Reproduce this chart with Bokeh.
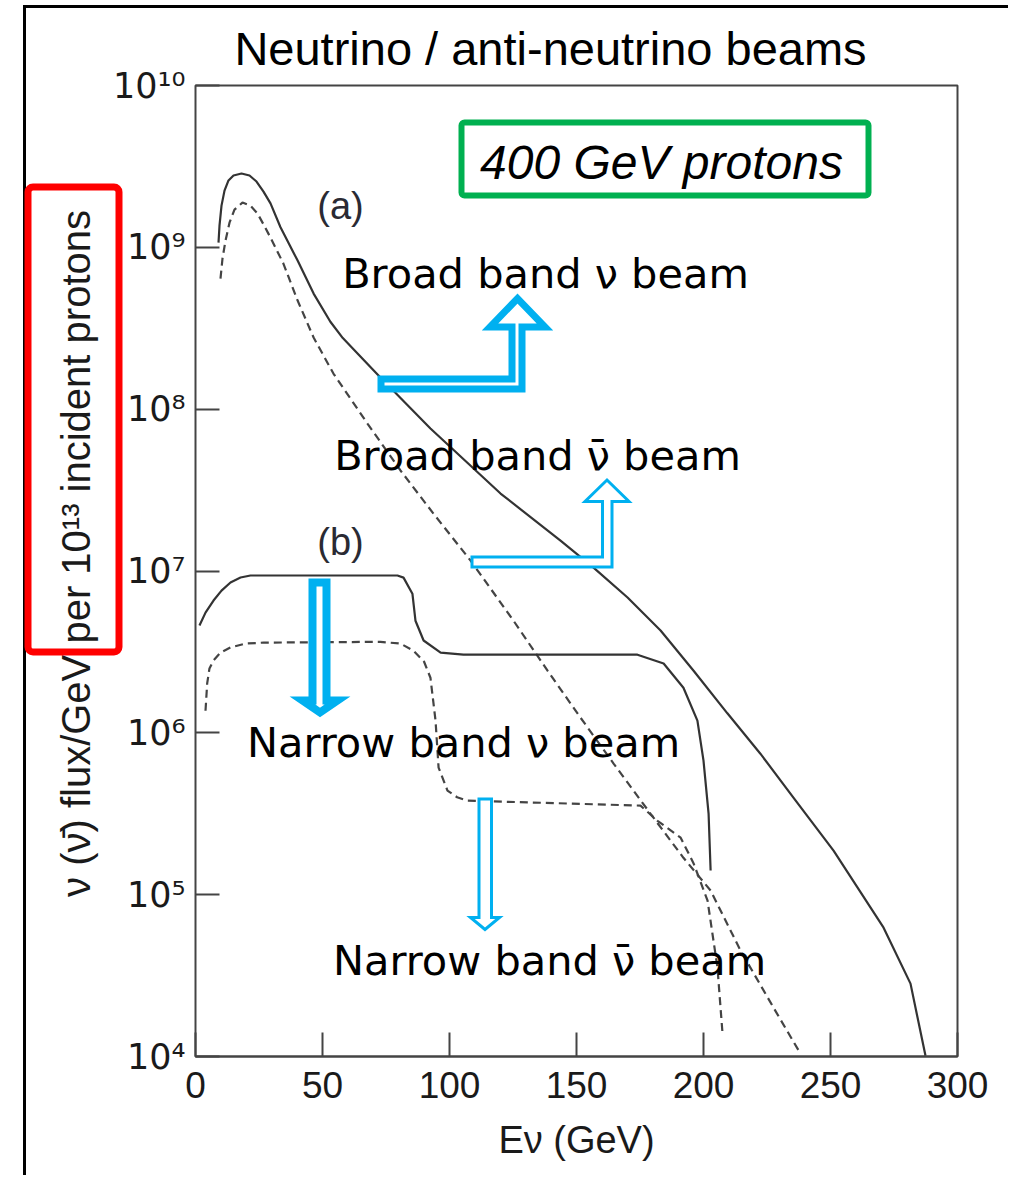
from bokeh.plotting import figure
from bokeh.models import Range1d, FixedTicker, Label, BoxAnnotation, PolyAnnotation
from bokeh.embed import file_html
from bokeh.resources import INLINE

# ---------------- data ----------------
broad_nu_E = [9.06, 9.45, 10.24, 11.42, 12.99, 14.96, 18.11, 21.26, 24.02, 26.77, 29.53, 33.46,
              40.2, 46.5, 53.1, 58.0, 63.8, 72.8, 92.5, 120.1, 143.7, 156.7, 170.1, 183.1,
              196.1, 209.4, 222.4, 235.4, 251.2, 270.9, 281.5, 287.4]
broad_nu_flux = [1.07e9, 1.36e9, 1.81e9, 2.24e9, 2.59e9, 2.78e9, 2.86e9, 2.78e9, 2.55e9, 2.21e9,
                 1.87e9, 1.33e9, 8.28e8, 5.18e8, 3.47e8, 2.75e8, 2.21e8, 1.57e8, 7.59e7, 3.01e7,
                 1.54e7, 1.05e7, 6.86e6, 4.29e6, 2.42e6, 1.32e6, 7.43e5, 3.98e5, 1.87e5, 6.25e4,
                 2.82e4, 1.01e4]

broad_nubar_E = [9.84, 10.63, 11.81, 13.39, 15.35, 18.5, 21.65, 24.4, 27.17, 29.5, 34.6, 40.2,
                 46.5, 54.3, 67.7, 80.7, 93.7, 108.3, 125.2, 138.6, 151.6, 164.6, 179.1, 192.1,
                 202.8, 214.6, 227.6, 238.2]
broad_nubar_flux = [6.41e8, 8.53e8, 1.10e9, 1.42e9, 1.71e9, 1.89e9, 1.81e9, 1.62e9, 1.35e9,
                    1.15e9, 7.94e8, 4.69e8, 2.77e8, 1.66e8, 8.15e7, 4.18e7, 2.26e7, 1.16e7,
                    4.93e6, 2.42e6, 1.24e6, 6.46e5, 3.17e5, 1.69e5, 1.06e5, 4.51e4, 2.0e4, 1.04e4]

narrow_nu_E = [1.57, 3.94, 7.09, 10.24, 13.78, 17.72, 21.65, 79.5, 81.9, 85.4, 86.6, 89.8, 96.5,
               105.5, 174.0, 184.3, 192.1, 197.6, 200.0, 202.0, 202.8]
narrow_nu_flux = [4.6e6, 5.53e6, 6.57e6, 7.57e6, 8.49e6, 9.12e6, 9.38e6, 9.38e6, 9.1e6, 7.24e6,
                  4.93e6, 3.72e6, 3.13e6, 3.04e6, 3.04e6, 2.68e6, 1.90e6, 1.19e6, 6.73e5, 3.17e5,
                  1.41e5]

narrow_nubar_E = [3.94, 4.6, 5.5, 7.09, 9.84, 13.78, 19.7, 26.8, 72.8, 80.7, 85.8, 90.0, 92.5,
                  94.5, 95.7, 99.2, 103.0, 107.1, 175.2, 181.9, 191.0, 196.1, 201.6, 205.5, 207.5]
narrow_nubar_flux = [1.37e6, 2.02e6, 2.5e6, 2.8e6, 3.13e6, 3.37e6, 3.56e6, 3.61e6, 3.65e6, 3.56e6,
                     3.22e6, 2.75e6, 2.19e6, 1.19e6, 6.1e5, 4.4e5, 4.0e5, 3.81e5, 3.55e5, 2.86e5,
                     2.25e5, 1.56e5, 9.18e4, 3.54e4, 1.38e4]

x_ticks = [0, 50, 100, 150, 200, 250, 300]
y_ticks = [10**4, 10**5, 10**6, 10**7, 10**8, 10**9, 10**10]
y_tick_labels = ["10\u2074", "10\u2075", "10\u2076", "10\u2077", "10\u2078", "10\u2079", "10\u00b9\u2070"]

title_text = "Neutrino / anti-neutrino beams"
x_label = "E\u03bd (GeV)"
y_label = "\u03bd (\u03bd\u0304) flux/GeV per 10\u00b9\u00b3 incident protons"
curve_tags = ["(a)", "(b)"]
beam_labels = ["Broad band \u03bd beam", "Broad band \u03bd\u0304 beam",
               "Narrow band \u03bd beam", "Narrow band \u03bd\u0304 beam"]
proton_label = "400 GeV protons"

# ---------------- layout (page pixels) ----------------
W, H = 1008, 1175
FL, FR, FT, FB = 195, 957, 85, 1056   # plot box edges
FONT = "Liberation Sans"
FONT2 = "DejaVu Sans"
BLUE = "#00B0F0"

# the frame covers the whole canvas; axes are pinned at the plot box
xs_per_px = 300.0 / (FR - FL)
x0 = 0 - FL * xs_per_px
x1 = 300 + (W - FR) * xs_per_px
dec_px = (FB - FT) / 6.0
y0 = 10 ** (4 - (H - FB) / dec_px)
y1 = 10 ** (10 + FT / dec_px)
ylabel_top_px = 50   # upper end of the (invisible) y-axis rule, centres the y label
y_bound_top = 10 ** (10 + (FT - ylabel_top_px) / dec_px)

p = figure(width=W, height=H, x_range=Range1d(x0, x1), y_range=Range1d(y0, y1),
           y_axis_type="log", output_backend="svg", toolbar_location=None, title=None,
           min_border_left=0, min_border_right=0, min_border_top=0, min_border_bottom=0)

p.xgrid.visible = False
p.ygrid.visible = False
p.outline_line_color = None
p.background_fill_color = "white"

p.xaxis.ticker = FixedTicker(ticks=x_ticks)
p.yaxis.ticker = FixedTicker(ticks=y_ticks)
p.yaxis.major_label_overrides = {v: s for v, s in zip(y_ticks, y_tick_labels)}
p.xaxis.fixed_location = 1e4
p.yaxis.fixed_location = 0
p.xaxis.bounds = (0, 300)
p.yaxis.bounds = (1e4, y_bound_top)
for ax in (p.xaxis, p.yaxis):
    ax.major_tick_in = 24
    ax.major_tick_out = 0
    ax.minor_tick_line_color = None
    ax.axis_line_color = "#444444"
    ax.axis_line_width = 2
    ax.major_tick_line_color = "#444444"
    ax.major_tick_line_width = 2
    ax.major_label_text_color = "#1a1a1a"
    ax.axis_label_text_font = FONT
    ax.axis_label_text_font_style = "normal"
    ax.axis_label_text_color = "#1a1a1a"
p.yaxis.axis_line_color = None
p.xaxis.major_label_text_font = FONT
p.xaxis.major_label_text_font_size = "37px"
p.yaxis.major_label_text_font = FONT2
p.yaxis.major_label_text_font_size = "35px"
p.xaxis.major_label_standoff = 15
p.yaxis.major_label_standoff = 10
p.xaxis.axis_label = x_label
p.xaxis.axis_label_text_font_size = "38px"
p.xaxis.axis_label_standoff = 18
p.yaxis.axis_label = y_label
p.yaxis.axis_label_text_font_size = "40px"
p.yaxis.axis_label_standoff = 12

# plot box
p.add_layout(BoxAnnotation(left=0, right=300, bottom=1e4, top=1e10, fill_color=None,
                           fill_alpha=0, line_color="#444444", line_alpha=1, line_width=2,
                           level="underlay"))

# ---------------- curves ----------------
p.line(broad_nu_E, broad_nu_flux, line_color="#333333", line_width=2.2)
p.line(broad_nubar_E, broad_nubar_flux, line_color="#444444", line_width=2.2, line_dash="8 5")
p.line(narrow_nu_E, narrow_nu_flux, line_color="#333333", line_width=2.2)
p.line(narrow_nubar_E, narrow_nubar_flux, line_color="#444444", line_width=2.2, line_dash="8 5")


# ---------------- annotations (page-pixel helpers) ----------------
def sx(px):
    return px


def sy(py):
    return H - py


def box(l, t, r, b, **kw):
    return BoxAnnotation(left=sx(l), right=sx(r), top=sy(t), bottom=sy(b),
                         left_units="screen", right_units="screen",
                         top_units="screen", bottom_units="screen", **kw)


def poly(pts, **kw):
    return PolyAnnotation(xs=[sx(a) for a, _ in pts], ys=[sy(b) for _, b in pts],
                          xs_units="screen", ys_units="screen", **kw)


def label(text, px, py, size, style="normal", color="black", font=FONT):
    return Label(x=sx(px), y=sy(py), x_units="screen", y_units="screen", text=text,
                 text_align="center", text_baseline="middle", text_font=font,
                 text_font_size=size, text_font_style=style, text_color=color)


# outer slide frame (left and top black lines)
p.add_layout(box(22.5, 4.5, 25.5, H, fill_color="black", fill_alpha=1, line_color=None))
p.add_layout(box(22.5, 4.5, W, 7.5, fill_color="black", fill_alpha=1, line_color=None))

# red box around part of the y label
p.add_layout(box(27.5, 186.5, 118.5, 651.5, fill_color=None, fill_alpha=0,
                 line_color="#FF0000", line_alpha=1, line_width=7, border_radius=5))
# green box
p.add_layout(box(461, 122, 868, 195, fill_color=None, fill_alpha=0,
                 line_color="#00B050", line_alpha=1, line_width=6, border_radius=3))

# arrows
arrow_style = dict(fill_color="white", fill_alpha=1, line_color=BLUE, line_alpha=1,
                   line_join="miter")
p.add_layout(poly([(380.5, 378.5), (511.5, 378.5), (511.5, 326.5), (489.5, 326.5), (517, 298),
                   (544.5, 326.5), (521.5, 326.5), (521.5, 388.5), (380.5, 388.5)],
                  line_width=7, **arrow_style))
p.add_layout(poly([(471.5, 556.5), (602, 556.5), (602, 501), (584.5, 501), (606.5, 479.5),
                   (628.5, 501), (611.5, 501), (611.5, 566.5), (471.5, 566.5)],
                  line_width=3, **arrow_style))
p.add_layout(poly([(312, 582), (326, 582), (326, 700), (337, 700), (319.5, 712), (302, 700),
                   (312, 700)],
                  line_width=8, **arrow_style))
p.add_layout(poly([(478.5, 798.5), (491, 798.5), (491, 917), (499, 917), (484.5, 929),
                   (470, 917), (478.5, 917)],
                  line_width=3, **arrow_style))

# texts
p.add_layout(label(title_text, 550, 48, "47px"))
p.add_layout(label(curve_tags[0], 340, 205, "38px", color="#2a2a33"))
p.add_layout(label(curve_tags[1], 340, 541, "38px", color="#2a2a33"))
p.add_layout(label(beam_labels[0], 545, 273, "41.5px", font=FONT2))
p.add_layout(label(beam_labels[1], 537, 455, "41.5px", font=FONT2))
p.add_layout(label(beam_labels[2], 463, 742, "41.5px", font=FONT2))
p.add_layout(label(beam_labels[3], 549, 960, "41.5px", font=FONT2))
p.add_layout(label(proton_label, 661, 162, "48px", style="italic"))

open("out.html", "w").write(file_html(p, INLINE))
